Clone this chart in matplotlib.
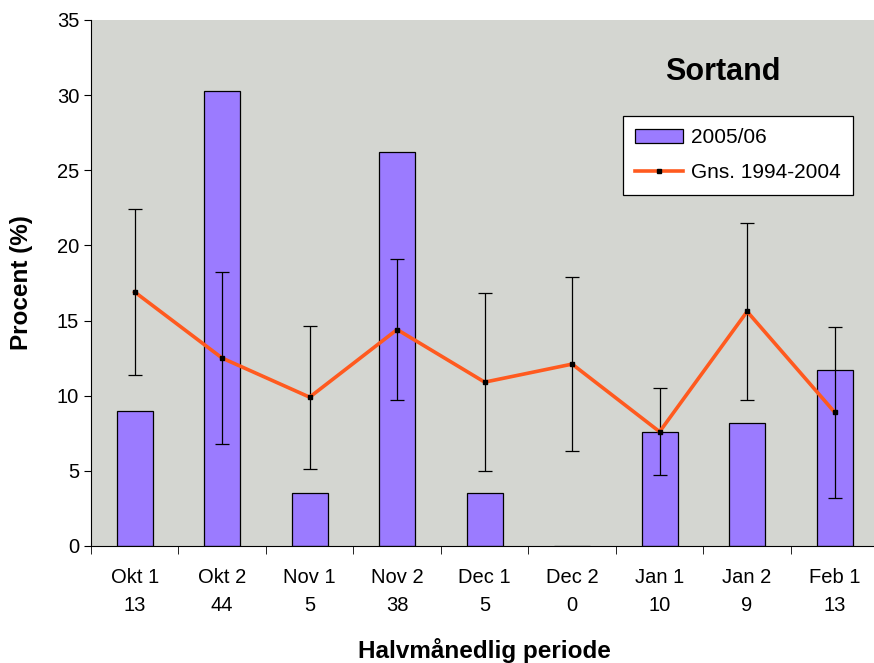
import numpy as np
import matplotlib.pyplot as plt

plt.rcParams['font.family'] = ['Liberation Sans', 'DejaVu Sans']

# data
periods = ['Okt 1', 'Okt 2', 'Nov 1', 'Nov 2', 'Dec 1', 'Dec 2', 'Jan 1', 'Jan 2', 'Feb 1']
counts = [13, 44, 5, 38, 5, 0, 10, 9, 13]
pct_0506 = [9.0, 30.3, 3.5, 26.2, 3.5, 0.0, 7.6, 8.2, 11.7]
avg_9404 = [16.9, 12.5, 9.9, 14.4, 10.9, 12.1, 7.6, 15.6, 8.9]
err_9404 = [5.55, 5.7, 4.75, 4.7, 5.9, 5.8, 2.9, 5.9, 5.7]

x = np.arange(len(periods))
labels = [f'{p}\n{c}' for p, c in zip(periods, counts)]

fig = plt.figure(figsize=(8.74, 6.63), dpi=100)
ax = fig.add_axes([0.104, 0.1765, 0.901, 0.7935])
ax.set_facecolor('#d4d6d1')

bars = ax.bar(x, pct_0506, width=0.41, color='#9b7bff', edgecolor='black', linewidth=0.9,
              label='2005/06', zorder=2)
ax.errorbar(x, avg_9404, yerr=err_9404, fmt='none', ecolor='black', elinewidth=0.9,
            capsize=5, capthick=0.9, zorder=3)
line, = ax.plot(x, avg_9404, color='#ff5a1f', linewidth=2.6, marker='s', markersize=3,
                markerfacecolor='black', markeredgecolor='black', label='Gns. 1994-2004',
                zorder=4)

ax.set_xlim(-0.5, 8.5)
ax.set_ylim(0, 35)
ax.set_yticks(range(0, 36, 5))
ax.set_xticks(x)
ax.set_xticklabels(labels, fontsize=14.5, linespacing=1.6)
ax.set_xticks(np.arange(-0.5, 9, 1), minor=True)
ax.tick_params(axis='x', which='major', length=0, pad=16)
ax.tick_params(axis='x', which='minor', length=6, direction='out')
ax.tick_params(axis='y', labelsize=14.5, length=5, direction='out')

for s in ['top', 'right']:
    ax.spines[s].set_visible(False)

ax.set_xlabel('Halvmånedlig periode', fontsize=17.5, fontweight='bold', va='center')
ax.set_ylabel('Procent (%)', fontsize=17.5, fontweight='bold', va='center')
ax.xaxis.set_label_coords(0.50, -0.198)
ax.yaxis.set_label_coords(-0.0876, 0.5)

ax.text(0.8025, 0.901, 'Sortand', transform=ax.transAxes, fontsize=22,
        fontweight='bold', ha='center', va='center')

leg = ax.legend([bars, line], ['2005/06', 'Gns. 1994-2004'], loc='upper left',
                bbox_to_anchor=(0.6755, 0.8175), borderaxespad=0, fontsize=15,
                frameon=True, fancybox=False, edgecolor='black', framealpha=1,
                handlelength=2.3, handleheight=0.6, borderpad=0.6, labelspacing=0.75,
                handletextpad=0.35)
leg.get_frame().set_linewidth(0.9)

fig.savefig('out.png', dpi=100)
